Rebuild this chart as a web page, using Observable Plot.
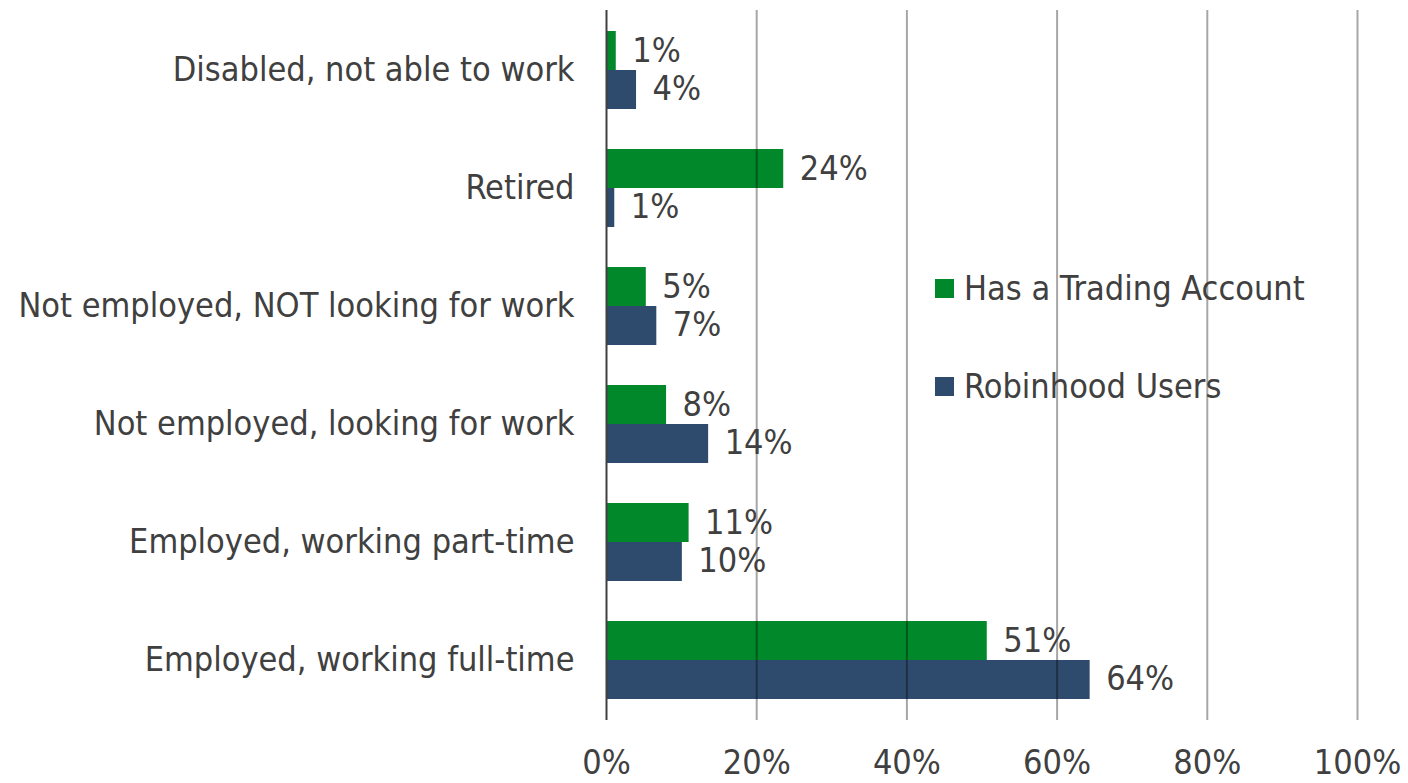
<!DOCTYPE html>
<html>
<head>
<meta charset="utf-8">
<script src="https://cdn.jsdelivr.net/npm/d3@7"></script>
<script src="https://cdn.jsdelivr.net/npm/@observablehq/plot@0.6"></script>
<style>
  html, body { margin: 0; padding: 0; background: #fff; }
  #wrap { position: relative; width: 1408px; height: 783px; overflow: hidden; font-family: "DejaVu Sans Condensed", "DejaVu Sans", sans-serif; font-stretch: condensed; color: #404040; }
  .legend { position: absolute; left: 935px; font-size: 34px; line-height: 1; display: flex; align-items: center; white-space: nowrap; }
  .legend .sw { width: 19px; height: 19px; margin-right: 10px; }
</style>
</head>
<body>
<div id="wrap"></div>
<script>
const categories = [
  "Disabled, not able to work",
  "Retired",
  "Not employed, NOT looking for work",
  "Not employed, looking for work",
  "Employed, working part-time",
  "Employed, working full-time"
];
const tradingAccount = [1.3, 23.6, 5.3, 8.0, 11.0, 50.7];
const robinhoodUsers = [4.0, 1.1, 6.7, 13.6, 10.1, 64.4];
const seriesNames = ["Has a Trading Account", "Robinhood Users"];
const seriesColors = ["#00882b", "#2e4a6c"];
const xTicks = [0, 20, 40, 60, 80, 100];

const trading = categories.map((c, i) => ({category: c, value: tradingAccount[i]}));
const robin = categories.map((c, i) => ({category: c, value: robinhoodUsers[i]}));

const fontFamily = '"DejaVu Sans Condensed", "DejaVu Sans", sans-serif';
const textColor = "#404040";

const chart = Plot.plot({
  width: 1408,
  height: 783,
  marginLeft: 606,
  marginRight: 51,
  marginTop: 10,
  marginBottom: 63,
  style: {fontFamily, fontSize: "34px", color: textColor, background: "#fff", fontStretch: "condensed"},
  x: {domain: [0, 100], ticks: xTicks, tickFormat: d => d + "%", tickSize: 0, tickPadding: 29, label: null},
  y: {domain: categories, paddingInner: 0.34, paddingOuter: 0.17, tickSize: 0, tickPadding: 32, label: null},
  marks: [
    Plot.barX(trading, {x: "value", y: "category", fill: seriesColors[0], insetBottom: 39}),
    Plot.barX(robin, {x: "value", y: "category", fill: seriesColors[1], insetTop: 39}),
    Plot.ruleX(xTicks.filter(d => d > 0), {stroke: "black", strokeOpacity: 0.35, strokeWidth: 2}),
    Plot.ruleX([0], {stroke: "#404040", strokeWidth: 2}),
    Plot.text(trading, {x: "value", y: "category", text: d => Math.round(d.value) + "%", textAnchor: "start", dx: 16, dy: -19, fill: textColor, fontSize: 34}),
    Plot.text(robin, {x: "value", y: "category", text: d => Math.round(d.value) + "%", textAnchor: "start", dx: 16, dy: 19, fill: textColor, fontSize: 34})
  ]
});

const wrap = document.getElementById("wrap");
wrap.appendChild(chart);
const tops = [271, 369];
seriesNames.forEach((name, i) => {
  const el = document.createElement("div");
  el.className = "legend";
  el.style.top = tops[i] + "px";
  el.innerHTML = `<span class="sw" style="background:${seriesColors[i]}"></span><span>${name}</span>`;
  wrap.appendChild(el);
});
</script>
</body>
</html>
